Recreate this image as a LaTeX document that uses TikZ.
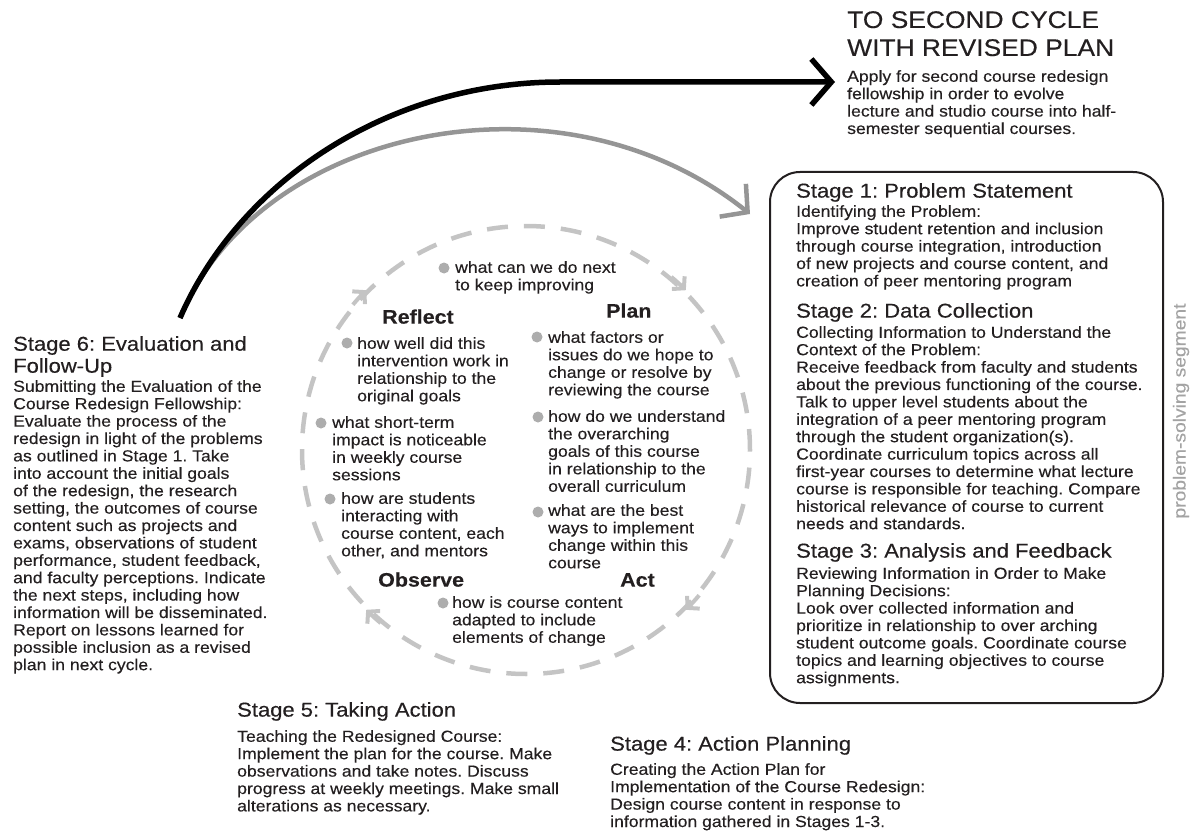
\documentclass[tikz,border=0pt]{standalone}
\usepackage{fontspec}
\setmainfont[FakeStretch=1.1, FakeBold=0.3]{Liberation Sans}
\frenchspacing
\usetikzlibrary{arrows.meta}

\definecolor{ink}{HTML}{231F20}
\definecolor{dashgray}{HTML}{C4C4C4}
\definecolor{dotgray}{HTML}{ADADAD}
\definecolor{arrowgray}{HTML}{959595}
\definecolor{sidegray}{HTML}{A3A3A3}

\newcommand{\fbody}{\fontsize{16}{17.4}\selectfont}
\newcommand{\fcycle}{\fontsize{16}{17.5}\selectfont}
\newcommand{\fhead}{\fontsize{20}{22}\selectfont}
\newcommand{\ftitle}{\fontsize{24}{28}\selectfont}
\newcommand{\fphase}{\bfseries\fontsize{19.5}{22}\selectfont}
\newcommand{\fside}{\fontsize{17.5}{19}\selectfont}

\begin{document}
\begin{tikzpicture}[x=1pt, y=-1pt,
    every node/.style={text=ink},
    txt/.style={anchor=north west, inner sep=0pt, align=left, execute at begin node=\strut},
    body/.style={txt, font=\fbody},
    head/.style={txt, font=\fhead},
    cycletext/.style={txt, font=\fcycle},
    phase/.style={txt, font=\fphase},
    dot/.style={circle, fill=dotgray, inner sep=0pt, minimum size=11pt},
    cycleline/.style={circle, draw=dashgray, line width=4.5pt, minimum size=448pt, dash pattern=on 21pt off 16pt},
    cyclearrow/.style={draw=dashgray, line width=4pt, -{Straight Barb[length=8pt, width=18pt]}},
    nextarrow/.style={draw=black, line width=5.5pt, -{Straight Barb[length=20pt, width=46pt]}},
    looparrow/.style={draw=arrowgray, line width=4.5pt, -{Straight Barb[length=19pt, width=42pt]}}]
    \useasboundingbox (0,0) rectangle (1192,832);

    % to the second cycle
    \node[txt, font=\ftitle] (title) at (847,11) {TO SECOND CYCLE\\WITH REVISED PLAN};
    \node[body] (next) at (847,70) {Apply for second course redesign\\fellowship in order to evolve\\lecture and studio course into half-\\semester sequential courses.};

    % stages 1-3
    \node[draw=ink, line width=2pt, rounded corners=30pt, minimum width=393pt, minimum height=531pt] (stagebox) at (966.5,437.5) {};
    \node[head] (s1head) at (796,182) {Stage 1: Problem Statement};
    \node[body] (s1) at (796,205) {Identifying the Problem:\\Improve student retention and inclusion\\through course integration, introduction\\of new projects and course content, and\\creation of peer mentoring program};
    \node[head] (s2head) at (796,302) {Stage 2: Data Collection};
    \node[body] (s2) at (796,326) {Collecting Information to Understand the\\Context of the Problem:\\Receive feedback from faculty and students\\about the previous functioning of the course.\\Talk to upper level students about the\\integration of a peer mentoring program\\through the student organization(s).\\Coordinate curriculum topics across all\\first-year courses to determine what lecture\\course is responsible for teaching. Compare\\historical relevance of course to current\\needs and standards.};
    \node[head] (s3head) at (796,542) {Stage 3: Analysis and Feedback};
    \node[body] (s3) at (796,567) {Reviewing Information in Order to Make\\Planning Decisions:\\Look over collected information and\\prioritize in relationship to over arching\\student outcome goals. Coordinate course\\topics and learning objectives to course\\assignments.};
    \node[font=\fside, text=sidegray, rotate=90, inner sep=0pt] (side) at (1181,411) {problem-solving segment};

    % stages 4-6
    \node[head] (s4head) at (610,735) {Stage 4: Action Planning};
    \node[body] (s4) at (610,763) {Creating the Action Plan for\\Implementation of the Course Redesign:\\Design course content in response to\\information gathered in Stages 1-3.};
    \node[head] (s5head) at (237,701) {Stage 5: Taking Action};
    \node[body] (s5) at (237,730) {Teaching the Redesigned Course:\\Implement the plan for the course. Make\\observations and take notes. Discuss\\progress at weekly meetings. Make small\\alterations as necessary.};
    \node[head] (s6head) at (13,336) {Stage 6: Evaluation and\\Follow-Up};
    \node[body] (s6) at (13,380) {Submitting the Evaluation of the\\Course Redesign Fellowship:\\Evaluate the process of the\\redesign in light of the problems\\as outlined in Stage 1. Take\\into account the initial goals\\of the redesign, the research\\setting, the outcomes of course\\content such as projects and\\exams, observations of student\\performance, student feedback,\\and faculty perceptions. Indicate\\the next steps, including how\\information will be disseminated.\\Report on lessons learned for\\possible inclusion as a revised\\plan in next cycle.};

    % the cycle
    \node[cycleline] (loop) at (526,450) {};
    \draw[cyclearrow] (loop.center) ++(220:226) arc[start angle=220, end angle=225, radius=226];
    \draw[cyclearrow] (loop.center) ++(310:226) arc[start angle=310, end angle=315, radius=226];
    \draw[cyclearrow] (loop.center) ++(40:226) arc[start angle=40, end angle=45, radius=226];
    \draw[cyclearrow] (loop.center) ++(130:226) arc[start angle=130, end angle=135, radius=226];

    \node[phase] (reflect) at (382,308) {Reflect};
    \node[phase] (plan) at (606,302) {Plan};
    \node[phase] (observe) at (378,571) {Observe};
    \node[phase] (act) at (620,571) {Act};

    \node[dot] (d0) at (444,268) {};
    \node[cycletext] (q0) at (455,261) {what can we do next\\to keep improving};
    \node[dot] (d1) at (347,343) {};
    \node[cycletext] (q1) at (357,337) {how well did this\\intervention work in\\relationship to the\\original goals};
    \node[dot] (d2) at (321,423) {};
    \node[cycletext] (q2) at (332,416) {what short-term\\impact is noticeable\\in weekly course\\sessions};
    \node[dot] (d3) at (330,499) {};
    \node[cycletext] (q3) at (341,492) {how are students\\interacting with\\course content, each\\other, and mentors};
    \node[dot] (d4) at (537,337) {};
    \node[cycletext] (q4) at (548,331) {what factors or\\issues do we hope to\\change or resolve by\\reviewing the course};
    \node[dot] (d5) at (538,417) {};
    \node[cycletext] (q5) at (548,410) {how do we understand\\the overarching\\goals of this course\\in relationship to the\\overall curriculum};
    \node[dot] (d6) at (538,512) {};
    \node[cycletext] (q6) at (548,504) {what are the best\\ways to implement\\change within this\\course};
    \node[dot] (d7) at (443,603) {};
    \node[cycletext] (q7) at (452,596) {how is course content\\adapted to include\\elements of change};

    % the two big arrows
    \coordinate (fork) at (180,318);
    \coordinate (looptip) at (750,214);
    \coordinate (nexttip) at (835,82);
    \draw[looparrow] (fork) .. controls (258,128) and (560,62) .. (looptip);
    \draw[nextarrow] (fork) .. controls (240,180) and (390,82) .. (560,82) -- (nexttip);
\end{tikzpicture}
\end{document}
